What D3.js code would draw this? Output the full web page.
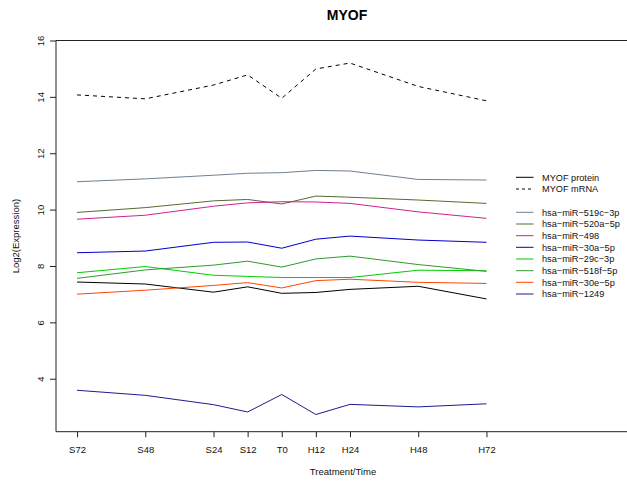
<!DOCTYPE html>
<html>
<head>
<meta charset="utf-8">
<style>
body { margin: 0; background: #fff; }
svg { font-family: "Liberation Sans", Arial, sans-serif; }
</style>
</head>
<body>
<svg width="627" height="484"></svg>
<script src="https://cdn.jsdelivr.net/npm/d3@7"></script>
<script>
// time points (hours relative to T0) and their labels
var timeLabels = ["S72", "S48", "S24", "S12", "T0", "H12", "H24", "H48", "H72"];
var timeHours  = [-72, -48, -24, -12, 0, 12, 24, 48, 72];

var myofProtein = [7.43, 7.36, 7.07, 7.26, 7.03, 7.06, 7.17, 7.28, 6.83];
var myofMRNA    = [14.07, 13.93, 14.42, 14.78, 13.95, 14.99, 15.20, 14.37, 13.86];

var mir519c = [10.99, 11.09, 11.22, 11.29, 11.31, 11.39, 11.37, 11.07, 11.05];
var mir520a = [9.90, 10.07, 10.31, 10.36, 10.20, 10.48, 10.44, 10.34, 10.22];
var mir498  = [9.66, 9.80, 10.12, 10.24, 10.28, 10.27, 10.22, 9.92, 9.69];
var mir30a  = [8.47, 8.53, 8.84, 8.85, 8.63, 8.95, 9.06, 8.92, 8.84];
var mir29c  = [7.76, 7.98, 7.67, 7.63, 7.59, 7.59, 7.59, 7.85, 7.83];
var mir518f = [7.56, 7.86, 8.03, 8.17, 7.96, 8.25, 8.35, 8.05, 7.81];
var mir30e  = [7.00, 7.14, 7.31, 7.41, 7.22, 7.48, 7.53, 7.42, 7.38];
var mir1249 = [3.59, 3.41, 3.08, 2.82, 3.44, 2.73, 3.09, 3.00, 3.11];

var yTicks = [4, 6, 8, 10, 12, 14, 16];

var series = [
  {name: "MYOF protein",     values: myofProtein, color: "#000000", dash: null},
  {name: "MYOF mRNA",        values: myofMRNA,    color: "#000000", dash: "4,4"},
  {name: "hsa\u2212miR\u2212519c\u22123p", values: mir519c, color: "#708090", dash: null},
  {name: "hsa\u2212miR\u2212520a\u22125p", values: mir520a, color: "#556B2F", dash: null},
  {name: "hsa\u2212miR\u2212498",          values: mir498,  color: "#D02090", dash: null},
  {name: "hsa\u2212miR\u221230a\u22125p",  values: mir30a,  color: "#0000CD", dash: null},
  {name: "hsa\u2212miR\u221229c\u22123p",  values: mir29c,  color: "#00CD00", dash: null},
  {name: "hsa\u2212miR\u2212518f\u22125p", values: mir518f, color: "#2E9B2E", dash: null},
  {name: "hsa\u2212miR\u221230e\u22125p",  values: mir30e,  color: "#FF4500", dash: null},
  {name: "hsa\u2212miR\u22121249",         values: mir1249, color: "#1C1C8C", dash: null}
];

var svg = d3.select("svg");
var plot = {left: 56, right: 640, top: 40.5, bottom: 431.7};

var x = d3.scaleLinear().domain([-79.4, 126]).range([plot.left, plot.right]);
var y = d3.scaleLinear().domain([2.12, 16]).range([plot.bottom, plot.top]);

// frame (left, top, bottom)
svg.append("path")
  .attr("d", "M" + plot.right + "," + plot.top + "H" + plot.left + "V" + plot.bottom + "H" + plot.right)
  .attr("fill", "none").attr("stroke", "#222").attr("stroke-width", 1);

// x axis
var xa = svg.append("g").attr("transform", "translate(0," + plot.bottom + ")")
  .call(d3.axisBottom(x).tickValues(timeHours).tickSize(5.5).tickPadding(9)
    .tickFormat(function(d, i) { return timeLabels[i]; }));
xa.select(".domain").remove();
xa.selectAll("line").attr("stroke", "#222");
xa.selectAll("text").attr("font-size", 9.5).attr("font-family", null).attr("fill", "#111");

// y axis
var ya = svg.append("g").attr("transform", "translate(" + plot.left + ",0)")
  .call(d3.axisLeft(y).tickValues(yTicks).tickSize(6).tickFormat(d3.format("d")));
ya.select(".domain").remove();
ya.selectAll("line").attr("stroke", "#222");
ya.selectAll("text")
  .attr("font-size", 9.5).attr("font-family", null).attr("fill", "#111")
  .attr("x", null).attr("dy", null)
  .attr("text-anchor", "middle")
  .attr("transform", "translate(-12,0) rotate(-90)");

// lines
var line = d3.line()
  .x(function(d, i) { return x(timeHours[i]); })
  .y(function(d) { return y(d); });

svg.selectAll(".serie")
  .data(series)
  .enter().append("path")
  .attr("class", "serie")
  .attr("d", function(d) { return line(d.values); })
  .attr("fill", "none")
  .attr("stroke", function(d) { return d.color; })
  .attr("stroke-width", 1)
  .attr("stroke-dasharray", function(d) { return d.dash; });

// legend
var legY = [177.3, 189, 212.3, 224, 235.7, 247.3, 259, 270.7, 282.3, 294];
var legend = svg.selectAll(".legend")
  .data(series)
  .enter().append("g")
  .attr("class", "legend")
  .attr("transform", function(d, i) { return "translate(516," + legY[i] + ")"; });

legend.append("line")
  .attr("x1", 0).attr("x2", 17.5)
  .attr("stroke", function(d) { return d.color; })
  .attr("stroke-width", 1)
  .attr("stroke-dasharray", function(d) { return d.dash ? "3,3" : null; });

legend.append("text")
  .attr("x", 26).attr("dy", "0.35em")
  .attr("font-size", 9.2).attr("fill", "#111")
  .text(function(d) { return d.name; });

// titles
svg.append("text")
  .attr("x", 347).attr("y", 20)
  .attr("text-anchor", "middle")
  .attr("font-size", 14).attr("font-weight", "bold")
  .text("MYOF");

svg.append("text")
  .attr("x", 343).attr("y", 475)
  .attr("text-anchor", "middle")
  .attr("font-size", 9.5).attr("fill", "#111")
  .text("Treatment/Time");

svg.append("text")
  .attr("transform", "translate(19," + ((plot.top + plot.bottom) / 2) + ") rotate(-90)")
  .attr("text-anchor", "middle")
  .attr("font-size", 9.5).attr("fill", "#111")
  .text("Log2(Expression)");
</script>
</body>
</html>
